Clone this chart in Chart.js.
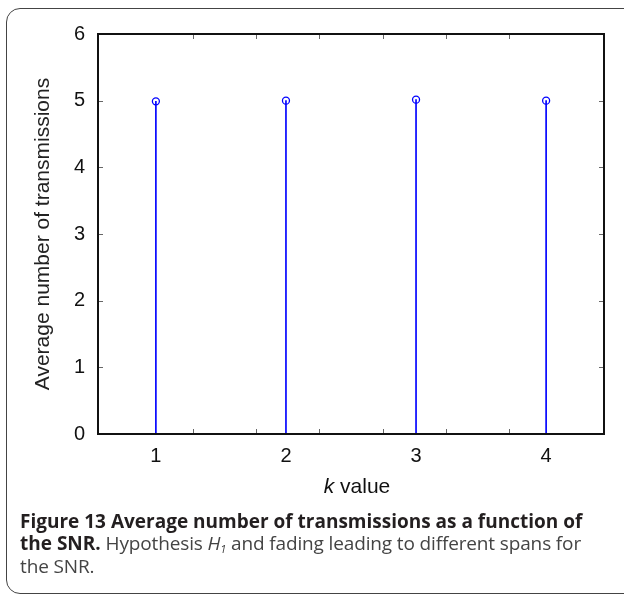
<!DOCTYPE html>
<html>
<head>
<meta charset="utf-8">
<script src="https://cdn.jsdelivr.net/npm/chart.js@4.4.1/dist/chart.umd.min.js"></script>
<style>
  html, body { margin: 0; padding: 0; background: #fff; overflow: hidden; }
  #wrap { position: relative; width: 624px; height: 596px; }
  #frame {
    position: absolute; left: 6px; top: 8px; width: 660px; height: 586px;
    border: 1.5px solid #444; border-radius: 14px; box-sizing: border-box;
  }
  #plot { position: absolute; left: 0; top: 0; }
  #caption {
    position: absolute; left: 20px; top: 510px;
    font-family: "Open Sans", sans-serif; font-size: 19px; line-height: 22.3px;
    color: #444; white-space: nowrap; letter-spacing: -0.14px;
  }
  #caption b { color: #231f20; font-weight: 700; letter-spacing: 0; }
  #caption sub { font-size: 11px; line-height: 0; vertical-align: -3px; }
</style>
</head>
<body>
<div id="wrap">
  <div id="frame"></div>
  <canvas id="plot" width="624" height="596"></canvas>
  <div id="caption">
    <b>Figure 13 Average number of transmissions as a function of</b><br>
    <b>the SNR.</b> Hypothesis <i>H</i><sub><i>1</i></sub> and fading leading to different spans for<br>
    the SNR.
  </div>
</div>
<script>
// stem data: average number of transmissions per k
const kValues = [1, 2, 3, 4];
const avgTransmissions = [4.99, 5.0, 5.015, 5.0];
const yTicks = [0, 1, 2, 3, 4, 5, 6];
// unlabelled tick marks on a 7-step grid along the top/bottom edges
const xTickMarks = [1, 2, 3, 4, 5, 6];

const points = kValues.map((k, i) => ({ x: k, y: avgTransmissions[i] }));

const labelFont = 'Liberation Sans';

// box around the plot, inward ticks and the "k value" axis title
const frameAndTicks = {
  id: 'frameAndTicks',
  afterDatasetsDraw(chart) {
    const { ctx, chartArea: a, scales } = chart;
    ctx.save();
    ctx.strokeStyle = '#666';
    ctx.lineWidth = 1;
    ctx.beginPath();
    xTickMarks.forEach(v => {
      const px = Math.round(scales.x2.getPixelForValue(v)) + 0.5;
      ctx.moveTo(px, a.bottom); ctx.lineTo(px, a.bottom - 5);
      ctx.moveTo(px, a.top); ctx.lineTo(px, a.top + 5);
    });
    yTicks.forEach(v => {
      const py = Math.round(scales.y.getPixelForValue(v)) + 0.5;
      ctx.moveTo(a.left, py); ctx.lineTo(a.left + 5, py);
      ctx.moveTo(a.right, py); ctx.lineTo(a.right - 5, py);
    });
    ctx.stroke();

    ctx.strokeStyle = '#111';
    ctx.lineWidth = 2;
    ctx.strokeRect(a.left, a.top, a.right - a.left, a.bottom - a.top);

    // axis title: italic k followed by regular "value"
    ctx.fillStyle = '#111';
    ctx.textBaseline = 'alphabetic';
    ctx.font = 'italic 21px "' + labelFont + '"';
    const kPart = 'k ';
    const kW = ctx.measureText(kPart).width;
    ctx.font = '21px "' + labelFont + '"';
    const vW = ctx.measureText('value').width;
    const x0 = (a.left + a.right) / 2 + 6 - (kW + vW) / 2;
    const y0 = a.bottom + 59;
    ctx.font = 'italic 21px "' + labelFont + '"';
    ctx.fillText(kPart, x0, y0);
    ctx.font = '21px "' + labelFont + '"';
    ctx.fillText('value', x0 + kW, y0);
    ctx.restore();
  }
};

const ctx = document.getElementById('plot').getContext('2d');
new Chart(ctx, {
  type: 'bar',
  data: {
    datasets: [
      {
        type: 'bar',
        data: points,
        backgroundColor: '#0000ff',
        barThickness: 1,
        borderWidth: 0,
        order: 2
      },
      {
        type: 'scatter',
        data: points,
        showLine: false,
        pointRadius: 3.5,
        pointBorderWidth: 1.3,
        pointBorderColor: '#0000ff',
        pointBackgroundColor: 'rgba(0,0,0,0)',
        order: 1
      }
    ]
  },
  options: {
    responsive: false,
    animation: false,
    layout: { padding: { left: 0, top: 34, right: 20, bottom: 92 } },
    plugins: {
      legend: { display: false },
      tooltip: { enabled: false }
    },
    scales: {
      x: {
        type: 'linear',
        position: 'bottom',
        min: 0.555,
        max: 4.445,
        offset: false,
        afterBuildTicks: s => { s.ticks = kValues.map(v => ({ value: v })); },
        afterFit: s => { s.height = 70; },
        grid: { display: false, drawTicks: false, offset: false },
        border: { display: false },
        ticks: { padding: 10, color: '#111', font: { family: labelFont, size: 20 } }
      },
      x2: {
        type: 'linear',
        position: 'top',
        min: 0,
        max: 7,
        display: false
      },
      y: {
        type: 'linear',
        min: 0,
        max: 6,
        afterBuildTicks: s => { s.ticks = yTicks.map(v => ({ value: v })); },
        afterFit: s => { s.width = 98; },
        grid: { display: false, drawTicks: false },
        border: { display: false },
        ticks: { padding: 13, color: '#111', font: { family: labelFont, size: 20 } },
        title: {
          display: true,
          text: 'Average number of transmissions',
          color: '#222',
          font: { family: labelFont, size: 21 },
          padding: { top: 31, bottom: 0 }
        }
      }
    }
  },
  plugins: [frameAndTicks]
});
</script>
</body>
</html>
